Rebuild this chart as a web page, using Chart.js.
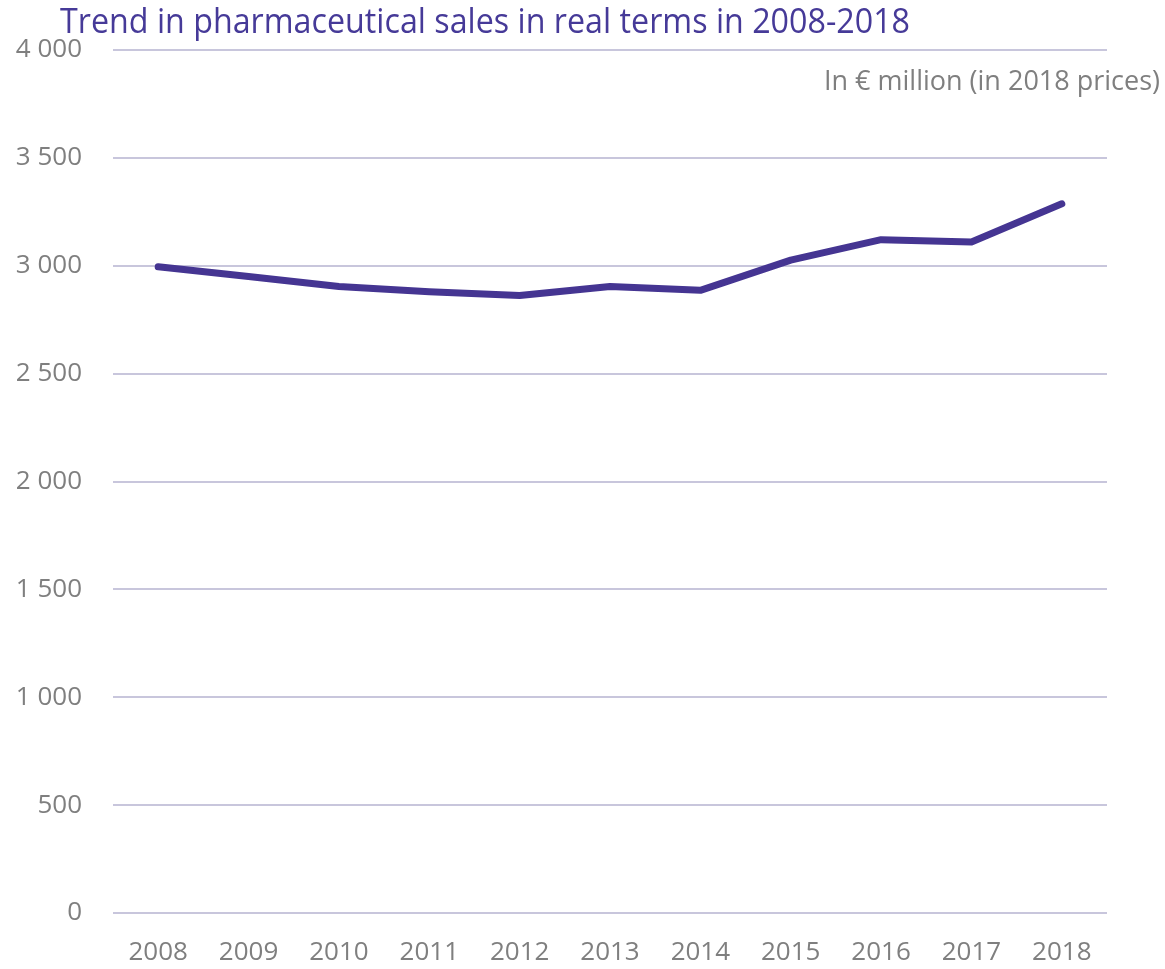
<!DOCTYPE html>
<html>
<head>
<meta charset="utf-8">
<title>Pharmaceutical sales 2008-2018</title>
<script src="https://cdn.jsdelivr.net/npm/chart.js@4/dist/chart.umd.min.js"></script>
<style>
  html, body { margin: 0; padding: 0; background: #fff; }
  canvas { display: block; }
</style>
</head>
<body>
<canvas id="salesChart" width="1165" height="969"></canvas>
<script>
// Sales in € million, 2018 prices
const years = ['2008', '2009', '2010', '2011', '2012', '2013', '2014', '2015', '2016', '2017', '2018'];
const sales = [2995, 2950, 2904, 2880, 2862, 2904, 2886, 3026, 3121, 3110, 3287];
const yTicks = [0, 500, 1000, 1500, 2000, 2500, 3000, 3500, 4000];

const chartTitle = 'Trend in pharmaceutical sales in real terms in 2008-2018';
const unitNote = 'In € million (in 2018 prices)';

const FONT = '"Open Sans", "Noto Sans", sans-serif';
const PURPLE = '#453592';
const GREY = '#7f7f7f';

// "4 000" style thousands separator
function spaced(v) {
    return String(v).replace(/\B(?=(\d{3})+(?!\d))/g, ' ');
}

// title and unit note are painted straight onto the canvas
const headerText = {
    id: 'headerText',
    afterDraw(chart) {
        const ctx = chart.ctx;
        ctx.save();
        ctx.textBaseline = 'alphabetic';
        ctx.fillStyle = '#463a98';
        ctx.font = '34px ' + FONT;
        ctx.textAlign = 'left';
        ctx.fillText(chartTitle, 60, 33, 850);
        ctx.fillStyle = GREY;
        ctx.font = '27px ' + FONT;
        ctx.textAlign = 'right';
        ctx.fillText(unitNote, 1160, 90, 348);
        ctx.restore();
    }
};

const ctx = document.getElementById('salesChart').getContext('2d');
new Chart(ctx, {
    type: 'line',
    data: {
        labels: years,
        datasets: [{
            data: sales,
            borderColor: PURPLE,
            borderWidth: 7,
            borderCapStyle: 'round',
            borderJoinStyle: 'round',
            pointRadius: 0,
            tension: 0,
            fill: false
        }]
    },
    options: {
        responsive: false,
        animation: false,
        layout: { padding: { top: 50, right: 58, left: 0, bottom: 0 } },
        plugins: {
            legend: { display: false },
            tooltip: { enabled: false }
        },
        scales: {
            x: {
                offset: true,
                grid: { display: false, drawTicks: false },
                border: { display: false },
                ticks: {
                    color: GREY,
                    font: { family: FONT, size: 26 },
                    padding: 24,
                    maxRotation: 0
                },
                afterFit(scale) { scale.height = 56; }
            },
            y: {
                min: 0,
                max: 4000,
                afterBuildTicks(scale) {
                    scale.ticks = yTicks.map(v => ({ value: v }));
                },
                grid: { color: '#c8c6dc', lineWidth: 2, drawTicks: false },
                border: { display: false },
                ticks: {
                    color: GREY,
                    font: { family: FONT, size: 26 },
                    padding: 31,
                    callback: v => spaced(v)
                },
                afterFit(scale) { scale.width = 113; }
            }
        }
    },
    plugins: [headerText]
});
</script>
</body>
</html>
